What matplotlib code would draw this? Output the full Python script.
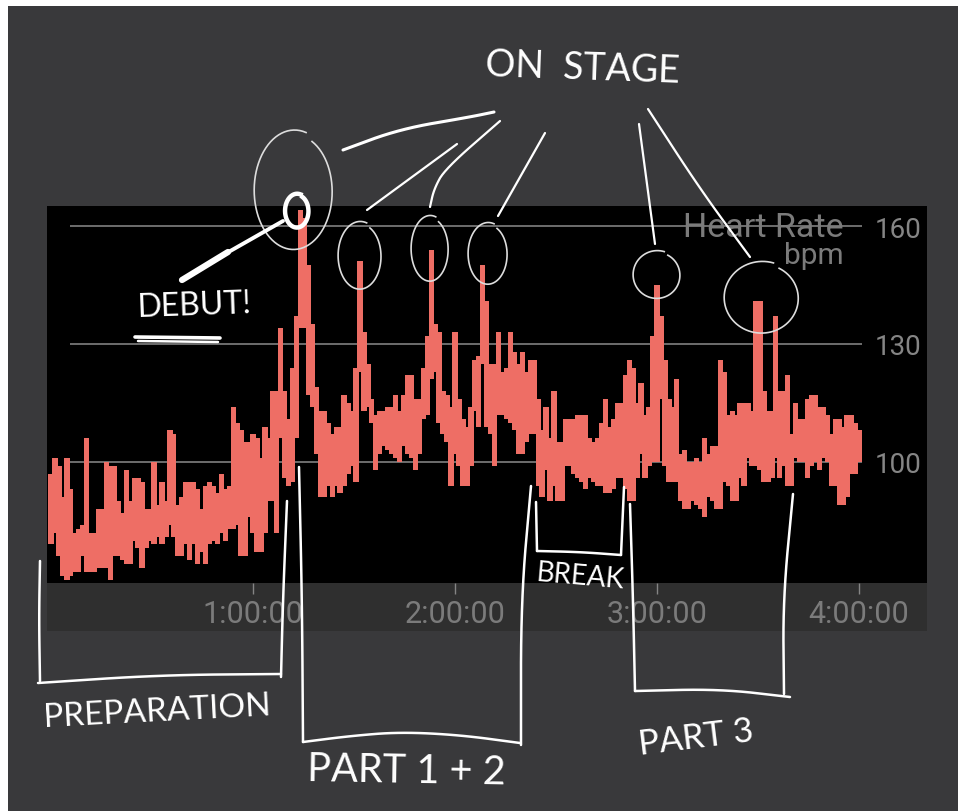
"""Heart rate during a concert, with hand-drawn notes on top."""
import numpy as np
import matplotlib
matplotlib.use("Agg")
import matplotlib.pyplot as plt

# bpm range per time bin
HR_HIGH = [
    97, 101, 99, 91, 101, 93, 82, 83, 84, 106, 82, 82, 88, 88, 100, 99, 99, 90, 87, 98,
    90, 96, 96, 95, 88, 88, 100, 89, 95, 90, 108, 107, 89, 91, 95, 95, 95, 93, 88, 94,
    95, 94, 92, 97, 93, 94, 114, 110, 108, 105, 105, 107, 106, 101, 109, 106, 118, 118, 134, 118,
    111, 124, 137, 164, 162, 150, 135, 119, 113, 113, 110, 107, 109, 109,
    117, 115, 113, 124, 151, 133, 125, 116, 112, 113, 113, 114, 114, 117, 113, 117, 122, 122, 116, 116,
    124, 132, 154, 135, 133, 118, 117, 114, 133, 116, 111, 109, 114, 126, 127, 150, 141, 125, 125, 133,
    123, 124, 133, 128, 125, 128, 123, 126, 126, 116, 108, 114, 106, 118, 105, 105, 111, 111, 111, 112,
    112, 112, 106, 105, 106, 110,
    116, 109, 111, 115, 115, 122, 126, 124, 115, 120, 112, 114, 132, 145, 137, 126, 116, 114, 121, 102,
    103, 100, 100, 101, 100, 106, 102, 104, 104, 126, 123, 112, 113, 112, 115, 115, 115, 113, 141, 141,
    118, 113, 113, 137, 118, 118, 122, 107, 115, 111, 111, 116, 117, 117, 114, 114, 112, 107, 111, 111,
    109, 112, 112, 110, 108,
]
HR_LOW = [
    79, 82, 76, 71, 70, 71, 72, 72, 76, 72, 72, 72, 73, 73, 73, 70, 76, 76, 75, 74,
    74, 80, 78, 73, 78, 80, 79, 81, 79, 81, 84, 81, 76, 76, 79, 75, 79, 74, 77, 74,
    79, 80, 79, 82, 80, 83, 83, 84, 76, 76, 86, 82, 77, 77, 82, 90, 90, 82, 106, 96,
    94, 95, 106, 134, 134, 117, 114, 102, 91, 91, 94, 91, 94, 92,
    94, 97, 99, 95, 123, 113, 114, 110, 98, 102, 104, 103, 102, 101, 100, 104, 102, 101, 98, 102,
    111, 112, 121, 123, 110, 107, 105, 94, 102, 99, 94, 94, 99, 113, 109, 125, 109, 107, 99, 112,
    112, 111, 110, 108, 102, 102, 105, 107, 107, 94, 91, 98, 90, 94, 90, 90, 99, 99, 97, 96,
    95, 93, 96, 95, 94, 94,
    92, 92, 93, 96, 96, 93, 90, 90, 96, 102, 96, 99, 100, 100, 116, 99, 95, 95, 95, 90,
    88, 88, 90, 89, 88, 86, 91, 90, 88, 88, 95, 94, 90, 90, 96, 94, 101, 99, 99, 98,
    95, 95, 96, 101, 96, 99, 94, 94, 101, 100, 100, 96, 99, 100, 98, 101, 100, 94, 94, 89,
    89, 91, 97, 97, 100,
]
HOUR_TICKS = [60, 120, 180, 240]
HOUR_LABELS = ["1:00:00", "2:00:00", "3:00:00", "4:00:00"]
BPM_TICKS = [100, 130, 160]

W, H = 958, 812
BG = "#39393b"
BAND = "#2f2f2f"
SALMON = "#ee6e65"
GREY = "#858585"
DIM_GREY = "#7b7b7b"
UI_FONT = ["Roboto", "DejaVu Sans"]
HAND_FONT = ["Lato", "Roboto", "DejaVu Sans"]

# pen strokes, in picture pixels
BRACKETS = [
    [(40, 562), (39, 620), (40, 682)],
    [(38, 684), (160, 676), (281, 675)],
    [(281, 678), (283, 600), (287, 502)],
    [(299, 468), (302, 600), (303, 743)],
    [(303, 743), (350, 737), (400, 733), (460, 736), (520, 744)],
    [(521, 746), (521, 600), (531, 487)],
    [(536, 503), (537, 552)],
    [(537, 552), (580, 553), (621, 556)],
    [(621, 556), (624, 488)],
    [(630, 505), (633, 600), (635, 692)],
    [(635, 692), (720, 690), (790, 698)],
    [(784, 695), (783, 600), (793, 495)],
]
POINTERS = [
    [(367, 211), (457, 145)],
    [(430, 208), (434, 190), (445, 170), (500, 122)],
    [(498, 217), (545, 134)],
    [(655, 245), (639, 125)],
    [(750, 258), (700, 190), (648, 110)],
]
CIRCLES = [
    (294, 192, 40, 60),
    (360, 257, 22, 34),
    (430, 250, 19, 33),
    (488, 255, 20, 31),
    (657, 276, 24, 24),
    (762, 299, 38, 36),
]
NOTES = [
    ("ON  STAGE", 583, 68, 27, -2),
    ("DEBUT!", 194, 306, 23, 2),
    ("BREAK", 580, 577, 20, -5),
    ("PREPARATION", 157, 712, 24, 3),
    ("PART 1 + 2", 406, 771, 28.5, -1),
    ("PART 3", 696, 738, 25, 7),
]


def px_axes(fig, x0, y0, x1, y1, **kw):
    return fig.add_axes([x0 / W, 1 - y1 / H, (x1 - x0) / W, (y1 - y0) / H], **kw)


def soften(pts, rounds=3):
    # corner cutting so a pen stroke bends instead of kinking
    pts = np.array(pts, dtype=float)
    for _ in range(rounds):
        q = 0.75 * pts[:-1] + 0.25 * pts[1:]
        r = 0.25 * pts[:-1] + 0.75 * pts[1:]
        mid = np.empty((2 * len(q), 2))
        mid[0::2], mid[1::2] = q, r
        pts = np.vstack([pts[:1], mid, pts[-1:]])
    return pts


def draw_stroke(ax, pts, lw=1.8, color="white"):
    xy = soften(pts)
    ax.plot(xy[:, 0], xy[:, 1], color=color, lw=lw,
            solid_capstyle="round", solid_joinstyle="round")


def draw_loop(ax, cx, cy, rx, ry, lw=1.2, color="#dddddd"):
    # starts inside near the top and ends just past its own start
    t = np.linspace(-np.pi / 2 + 0.5, 1.5 * np.pi + 0.3, 80)
    grow = 0.94 + 0.08 * (t - t[0]) / (t[-1] - t[0])
    ax.plot(cx + rx * np.cos(t) * grow, cy + ry * np.sin(t) * grow, color=color, lw=lw)


fig = plt.figure(figsize=(W / 100, H / 100), dpi=100, facecolor="white")
bg = px_axes(fig, 8, 7, W, H, facecolor=BG)
bg.set_xticks([])
bg.set_yticks([])
for s in bg.spines.values():
    s.set_visible(False)

# minutes: 0 at x=51, 202 px per hour; bpm: 100 at y=463, 118 px per 30
ax = px_axes(fig, 47, 207, 927, 584, facecolor="black")
ax.set_xlim(-1.19, 260.2)
ax.set_ylim(69.2, 165.1)
for s in ax.spines.values():
    s.set_visible(False)

minutes = np.linspace(0, 240, len(HR_HIGH))
bin_w = minutes[1] - minutes[0]
high = np.array(HR_HIGH)
low = np.array(HR_LOW)
ax.hlines(BPM_TICKS, 5.5, 241, color="#808080", lw=1.2, zorder=1)
ax.bar(minutes, high - low, bottom=low, width=bin_w * 1.35, color=SALMON, lw=0, zorder=2)

ax.set_xticks([])
ax.yaxis.tick_right()
ax.set_yticks(BPM_TICKS)
ax.set_yticklabels([str(b) for b in BPM_TICKS], family=UI_FONT, fontsize=20, color=GREY)
ax.tick_params(axis="y", length=0, pad=-38)
ax.text(0.905, 0.945, "Heart Rate", transform=ax.transAxes, ha="right", va="center",
        family=UI_FONT, fontsize=24.5, color=DIM_GREY, zorder=3)
ax.text(0.905, 0.87, "bpm", transform=ax.transAxes, ha="right", va="center",
        family=UI_FONT, fontsize=21.5, color=DIM_GREY, zorder=3)

band = px_axes(fig, 47, 584, 927, 632, facecolor=BAND)
band.set_xlim(ax.get_xlim())
band.set_yticks([])
for s in band.spines.values():
    s.set_visible(False)
band.set_xticks(HOUR_TICKS)
band.set_xticklabels(HOUR_LABELS, family=UI_FONT, fontsize=22, color=DIM_GREY)
band.tick_params(axis="x", bottom=False, top=True, direction="in", length=8, width=1,
                 color=GREY, pad=-23)

# hand-drawn layer
pen = px_axes(fig, 0, 0, W, H, facecolor="none")
pen.set_xlim(0, W)
pen.set_ylim(H, 0)
pen.axis("off")

for pts in BRACKETS:
    draw_stroke(pen, pts, lw=1.8)
for pts in POINTERS:
    draw_stroke(pen, pts, lw=1.6)
draw_stroke(pen, [(343, 151), (400, 130), (470, 118), (494, 113)], lw=2.2)
for c in CIRCLES:
    draw_loop(pen, *c)

# debut marker
draw_stroke(pen, [(182, 281), (228, 253)], lw=4.5)
draw_stroke(pen, [(225, 255), (283, 222)], lw=2.8)
draw_loop(pen, 297, 212, 12, 17, lw=3.2, color="white")
draw_stroke(pen, [(135, 338), (220, 339)], lw=2.6)
draw_stroke(pen, [(138, 342), (218, 343)], lw=1.8)

for label, x, y, size, rot in NOTES:
    pen.text(x, y, label, ha="center", va="center", rotation=rot, family=HAND_FONT,
             fontsize=size, color="white")

fig.savefig("out.png", dpi=100, facecolor="white")
